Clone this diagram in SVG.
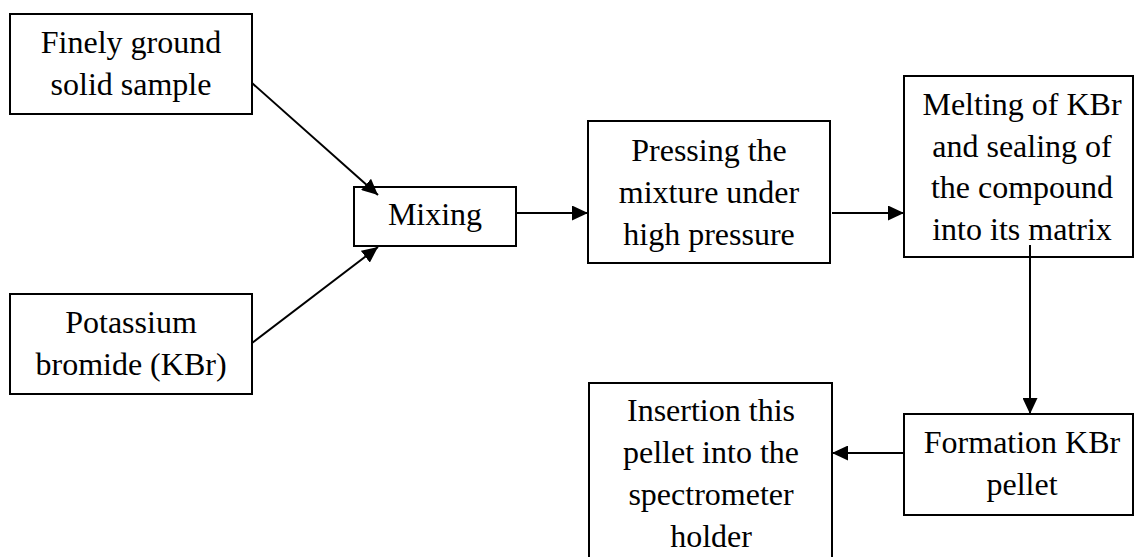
<svg xmlns="http://www.w3.org/2000/svg" width="1135" height="557" viewBox="0 0 1135 557">
<defs>
<style>
.box{fill:#fff;stroke:#000;stroke-width:2}
.c{fill:none;stroke:#000;stroke-width:2}
</style>
<marker id="ah" markerUnits="userSpaceOnUse" markerWidth="17" markerHeight="15" refX="16" refY="7.5" orient="auto">
<path d="M0,0 L16,7.5 L0,15 Z" fill="#000"/>
</marker>
</defs>
<rect width="1135" height="557" fill="#fff"/>
<g font-family="'Liberation Serif', 'Times New Roman', serif" font-size="32" text-anchor="middle" fill="#000">
<g id="n1"><rect class="box" x="10" y="14" width="242" height="100"/>
<text x="131" y="53">Finely ground</text><text x="131" y="95">solid sample</text></g>
<g id="n2"><rect class="box" x="10" y="294" width="242" height="100"/>
<text x="131" y="333">Potassium</text><text x="131" y="375">bromide (KBr)</text></g>
<g id="n3"><rect class="box" x="354" y="187" width="162" height="59"/>
<text x="435" y="225">Mixing</text></g>
<g id="n4"><rect class="box" x="588" y="121" width="242" height="142"/>
<text x="709" y="161">Pressing the</text><text x="709" y="203">mixture under</text><text x="709" y="245">high pressure</text></g>
<g id="n5"><rect class="box" x="904" y="76" width="229" height="181"/>
<text x="1022" y="115">Melting of KBr</text><text x="1022" y="157">and sealing of</text><text x="1022" y="198">the compound</text><text x="1022" y="240">into its matrix</text></g>
<g id="n6"><rect class="box" x="904" y="414" width="229" height="101"/>
<text x="1022" y="453">Formation KBr</text><text x="1022" y="495">pellet</text></g>
<g id="n7"><rect class="box" x="589" y="383" width="243" height="190"/>
<text x="711" y="421">Insertion this</text><text x="711" y="463">pellet into the</text><text x="711" y="505">spectrometer</text><text x="711" y="547">holder</text></g>
</g>
<g id="connectors">
<line class="c" x1="252" y1="83" x2="378" y2="195" marker-end="url(#ah)"/>
<line class="c" x1="252" y1="343" x2="378" y2="247" marker-end="url(#ah)"/>
<line class="c" x1="516" y1="213" x2="588" y2="213" marker-end="url(#ah)"/>
<line class="c" x1="832" y1="213" x2="904" y2="213" marker-end="url(#ah)"/>
<line class="c" x1="1030" y1="245" x2="1030" y2="414" marker-end="url(#ah)"/>
<line class="c" x1="904" y1="453" x2="832" y2="453" marker-end="url(#ah)"/>
</g>
</svg>
